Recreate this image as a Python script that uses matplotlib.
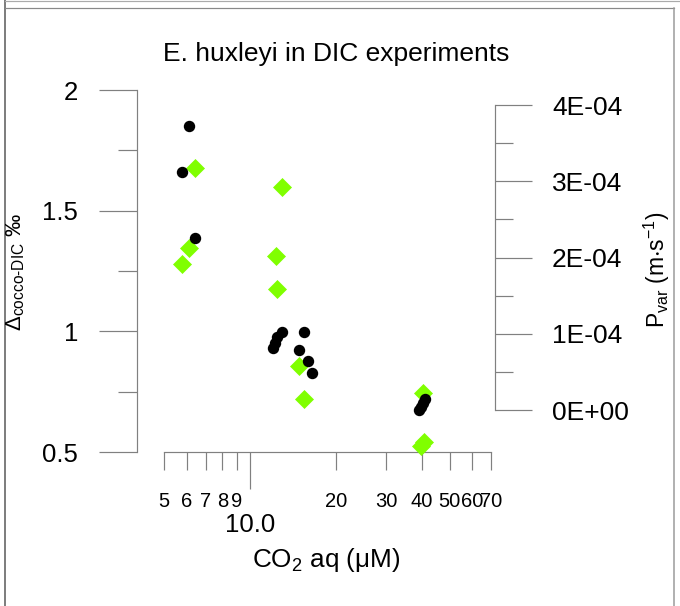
import matplotlib
matplotlib.use('Agg')
import matplotlib.pyplot as plt
from matplotlib.ticker import FixedLocator, FixedFormatter, NullFormatter
from matplotlib.lines import Line2D

plt.rcParams['font.family'] = ['Liberation Sans', 'DejaVu Sans']
plt.rcParams['mathtext.fontset'] = 'custom'
plt.rcParams['mathtext.rm'] = 'Liberation Sans'
plt.rcParams['mathtext.it'] = 'Liberation Sans:italic'
plt.rcParams['mathtext.bf'] = 'Liberation Sans:bold'

# ---- data ----
# green diamonds: fractionation (left axis)
co2_delta = [6.42, 5.77, 6.12, 12.91, 12.33, 12.46, 14.88, 15.45, 40.4, 40.6, 39.6]
delta = [1.678, 1.277, 1.344, 1.596, 1.314, 1.175, 0.855, 0.718, 0.745, 0.543, 0.525]
# black dots: Pvar (right axis)
co2_pvar = [6.12, 5.77, 6.42, 12.91, 12.40, 12.24, 12.07, 15.45, 14.88, 16.0, 16.52,
            40.95, 40.2, 39.6, 39.0]
pvar = [3.725e-4, 3.125e-4, 2.26e-4, 1.019e-4, 0.953e-4, 0.883e-4, 0.809e-4,
        1.027e-4, 0.787e-4, 0.643e-4, 0.489e-4, 0.140e-4, 0.088e-4, 0.035e-4, 0.003e-4]

x_major = [10]
x_major_labels = ['10.0']
x_minor = [5, 6, 7, 8, 9, 20, 30, 40, 50, 60, 70]
x_minor_labels = ['5', '6', '7', '8', '9', '20', '30', '40', '50', '60', '70']
yl_major = [0.5, 1.0, 1.5, 2.0]
yl_major_labels = ['0.5', '1', '1.5', '2']
yl_minor = [0.75, 1.25, 1.75]
yr_major = [0, 1e-4, 2e-4, 3e-4, 4e-4]
yr_major_labels = ['0E+00', '1E-04', '2E-04', '3E-04', '4E-04']
yr_minor = [0.5e-4, 1.5e-4, 2.5e-4, 3.5e-4]

W, H = 680, 606
fig = plt.figure(figsize=(W / 100, H / 100), dpi=100)


def fx(px):
    return px / W


def fy(py):
    return 1 - py / H


PT = 0.72  # points per pixel
axcol = '#808080'

ax = fig.add_axes([fx(137), fy(452), (495 - 137) / W, (452 - 90) / H])
ax.set_xscale('log')
ax.set_xlim(4.021, 72.06)
ax.set_ylim(0.5, 2.0)
ax.patch.set_alpha(0)

for s in ['top', 'right']:
    ax.spines[s].set_visible(False)
ax.spines['left'].set_bounds(0.5, 2.0)
ax.spines['bottom'].set_bounds(5, 70)
for s in ['left', 'bottom']:
    ax.spines[s].set_color(axcol)
    ax.spines[s].set_linewidth(1.2 * PT)

ax.xaxis.set_major_locator(FixedLocator(x_major))
ax.xaxis.set_major_formatter(FixedFormatter(x_major_labels))
ax.xaxis.set_minor_locator(FixedLocator(x_minor))
ax.xaxis.set_minor_formatter(FixedFormatter(x_minor_labels))
ax.tick_params(axis='x', which='major', direction='out', length=37 * PT, width=1.2 * PT,
               color=axcol, labelsize=18.5, pad=24 * PT)
ax.tick_params(axis='x', which='minor', direction='out', length=18 * PT, width=1.2 * PT,
               color=axcol, labelsize=14.5, pad=22 * PT)

ax.yaxis.set_major_locator(FixedLocator(yl_major))
ax.yaxis.set_major_formatter(FixedFormatter(yl_major_labels))
ax.yaxis.set_minor_locator(FixedLocator(yl_minor))
ax.yaxis.set_minor_formatter(NullFormatter())
ax.tick_params(axis='y', which='major', direction='out', length=38 * PT, width=1.2 * PT,
               color=axcol, labelsize=18.5, pad=21 * PT)
ax.tick_params(axis='y', which='minor', direction='out', length=19 * PT, width=1.2 * PT,
               color=axcol)

ax.plot(co2_delta, delta, linestyle='none', marker='D', markersize=9.6,
        markerfacecolor='#80FF00', markeredgecolor='#80FF00', markeredgewidth=0.5,
        clip_on=False, zorder=3)

ax2 = ax.twinx()
ax2.set_ylim(-42 / 76.25 * 1e-4, 320 / 76.25 * 1e-4)
ax2.patch.set_alpha(0)
for s in ['top', 'left', 'bottom']:
    ax2.spines[s].set_visible(False)
ax2.spines['right'].set_bounds(0, 4e-4)
ax2.spines['right'].set_color(axcol)
ax2.spines['right'].set_linewidth(1.2 * PT)
ax2.yaxis.set_major_locator(FixedLocator(yr_major))
ax2.yaxis.set_major_formatter(FixedFormatter(yr_major_labels))
ax2.yaxis.set_minor_locator(FixedLocator(yr_minor))
ax2.yaxis.set_minor_formatter(NullFormatter())
ax2.tick_params(axis='y', which='major', direction='out', length=37 * PT, width=1.2 * PT,
                color=axcol, labelsize=19, pad=20 * PT)
ax2.tick_params(axis='y', which='minor', direction='out', length=18 * PT, width=1.2 * PT,
                color=axcol)

ax2.plot(co2_pvar, pvar, linestyle='none', marker='o', markersize=7.2,
         color='black', clip_on=False, zorder=4)

# titles and labels
fig.text(fx(336), fy(61), 'E. huxleyi in DIC experiments', ha='center', va='baseline',
         fontsize=19)
fig.text(fx(326), fy(567), r'CO$_2$ aq ($\mathregular{\mu}$M)', ha='center', va='baseline',
         fontsize=18.8)
fig.text(fx(16), fy(272), r'$\mathregular{\Delta_{\text{cocco-DIC}}}$ ‰', ha='center',
         va='center', rotation=90, fontsize=16)
fig.text(fx(657), fy(270), r'$\mathregular{P_{var}\ (m{\cdot}s^{-1})}$', ha='center',
         va='center', rotation=90, fontsize=16.5)

# screenshot frame lines
fig.add_artist(Line2D([fx(4.5), fx(4.5)], [0, 1], color='#555555', lw=1.5 * PT))
fig.add_artist(Line2D([fx(5), 1], [fy(1), fy(1)], color='#aaaaaa', lw=1.2 * PT))
fig.add_artist(Line2D([fx(5), fx(674)], [fy(8), fy(8)], color='#888888', lw=1.2 * PT))
fig.add_artist(Line2D([fx(674), fx(674)], [fy(8), 0], color='#999999', lw=1.5 * PT))

fig.savefig('out.png', dpi=100)
